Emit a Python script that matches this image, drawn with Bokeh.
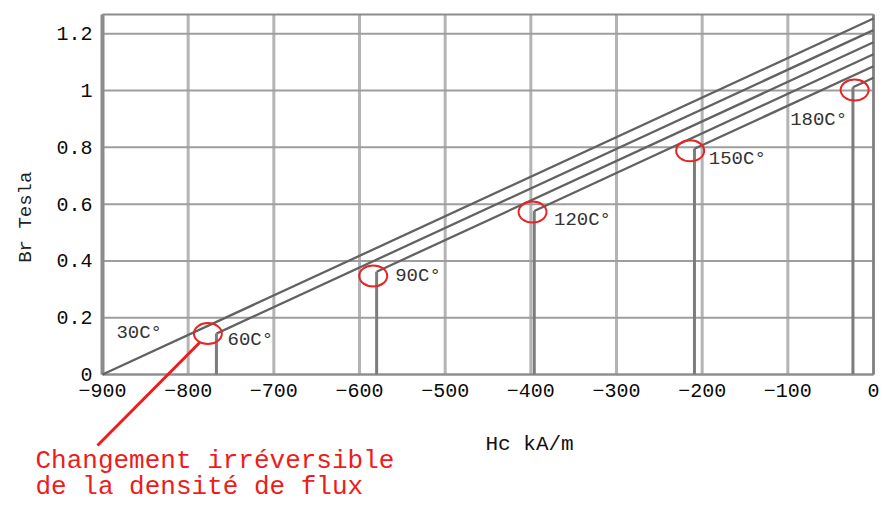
import math
from bokeh.plotting import figure
from bokeh.models import LinearAxis, FixedTicker
from bokeh.core.properties import value
from bokeh.embed import file_html
from bokeh.resources import INLINE

# ---- data ----
temps = ["30C°", "60C°", "90C°", "120C°", "150C°", "180C°"]
knee_h = [-900, -767, -580, -396, -209, -24]          # kA/m, where each curve starts (knee)
knee_b = [0.0, 0.144, 0.362, 0.576, 0.795, 1.012]     # Tesla at knee
br_h0 = [1.254, 1.213, 1.170, 1.128, 1.086, 1.045]    # Tesla at H = 0

circle_h = [-777, -584, -398, -214, -22]
circle_b = [0.144, 0.347, 0.572, 0.788, 1.002]

x_ticks = [-900, -800, -700, -600, -500, -400, -300, -200, -100, 0]
x_tick_labels = ["\u2212900", "\u2212800", "\u2212700", "\u2212600", "\u2212500",
                 "\u2212400", "\u2212300", "\u2212200", "\u2212100", "0"]
y_ticks = [0, 0.2, 0.4, 0.6, 0.8, 1.0, 1.2]
y_tick_labels = ["0", "0.2", "0.4", "0.6", "0.8", "1", "1.2"]

x_title = "Hc kA/m"
y_title = "Br  Tesla"
note_lines = ["Changement irréversible", "de la densité de flux"]

# ---- layout geometry (figure pixels) ----
FIG_W, FIG_H = 880, 505
FR_L, FR_R, FR_T, FR_B = 102, 873, 14, 374
XMIN, XMAX, YMIN, YMAX = -900, 0, 0, 1.268
kx = (FR_R - FR_L) / (XMAX - XMIN)
ky = (FR_B - FR_T) / (YMAX - YMIN)
kx_ref = (879 - FR_L) / (XMAX - XMIN)   # horizontal scale of the reference picture


def H(px):          # free position in figure pixels -> data x
    return XMIN + (px - FR_L) / kx


def H_ref(px):      # position tied to the data, read with the reference's scale
    return XMIN + (px - FR_L) / kx_ref


def B(py):
    return YMIN + (FR_B - py) / ky


MONO = "Liberation Mono"
p = figure(width=FIG_W, height=FIG_H,
           x_range=(H(0), H(FIG_W)), y_range=(B(FIG_H), B(0)),
           x_axis_location=None, y_axis_location=None,
           output_backend="svg", toolbar_location=None, min_border=0)
p.outline_line_color = None
p.background_fill_color = "white"
p.border_fill_color = "white"
p.grid.visible = False

# axes placed at the chart's own edges
xaxis = LinearAxis(fixed_location=YMIN, ticker=FixedTicker(ticks=x_ticks),
                   major_label_overrides={t: l for t, l in zip(x_ticks, x_tick_labels)})
yaxis = LinearAxis(fixed_location=XMIN, ticker=FixedTicker(ticks=y_ticks),
                   major_label_overrides={t: l for t, l in zip(y_ticks, y_tick_labels)})
for ax in (xaxis, yaxis):
    ax.axis_line_color = None
    ax.major_tick_line_color = None
    ax.minor_tick_line_color = None
    ax.major_tick_out = 0
    ax.major_tick_in = 0
    ax.major_label_text_font = MONO
    ax.major_label_text_font_size = "20px"
    ax.major_label_text_color = "#0a0a0a"
xaxis.major_label_standoff = 9
yaxis.major_label_standoff = 10
p.add_layout(xaxis, "below")
p.add_layout(yaxis, "left")

# grid
p.segment(x0=x_ticks, y0=[YMIN] * len(x_ticks), x1=x_ticks, y1=[YMAX] * len(x_ticks),
          line_color="#b4b4b4", line_width=3)
p.segment(x0=[XMIN] * len(y_ticks), y0=y_ticks, x1=[XMAX] * len(y_ticks), y1=y_ticks,
          line_color="#9e9e9e", line_width=2)

# frame
p.segment(x0=[XMIN, XMIN], y0=[YMIN, YMAX], x1=[XMAX, XMAX], y1=[YMIN, YMAX],
          line_color="#8c8c8c", line_width=2)
p.segment(x0=[XMAX], y0=[YMIN], x1=[XMAX], y1=[YMAX], line_color="#808080", line_width=2.5)
p.segment(x0=[XMIN], y0=[YMIN], x1=[XMIN], y1=[YMAX], line_color="#8c8c8c", line_width=4)

# demagnetisation lines
xs = [[h, XMAX] for h in knee_h]
ys = [[b0, b1] for b0, b1 in zip(knee_b, br_h0)]
p.multi_line(xs=xs, ys=ys, line_color="#626262", line_width=2.3)

# irreversible drop at each knee
p.segment(x0=knee_h[1:], y0=[YMIN] * 5, x1=knee_h[1:], y1=knee_b[1:],
          line_color="#7c7c7c", line_width=3)

# red circles at the knees
p.ellipse(x=circle_h, y=circle_b, width=28, height=21, width_units="screen",
          height_units="screen", fill_color=None, line_color="#e82424", line_width=2)

# temperature labels
lab_px = [(115, 332), (228, 339.5), (397, 275.5), (557, 219), (713, 158), (795, 119.5)]
p.text(x=[H_ref(lab_px[0][0])], y=[B(lab_px[0][1])], text=[temps[0]],
       text_font=value(MONO), text_font_size="19px", text_color="#333333",
       text_align="left", text_baseline="middle",
       background_fill_color="white", padding=1)
p.text(x=[H_ref(a) for a, _ in lab_px[1:]], y=[B(b) for _, b in lab_px[1:]], text=temps[1:],
       text_font=value(MONO), text_font_size="19px", text_color="#333333",
       text_align="left", text_baseline="middle")

# axis titles
p.text(x=[H(485)], y=[B(444)], text=[x_title], text_font=value(MONO),
       text_font_size="21px", text_color="#111111", text_align="left", text_baseline="middle")
p.text(x=[H(25)], y=[B(211)], text=[y_title], text_font=value(MONO),
       text_font_size="19px", text_color="#222222", text_align="center",
       text_baseline="middle", angle=math.pi / 2)

# red pointer and note
RED = "#ee1c1c"
p.line(x=[H_ref(200), H(97)], y=[B(342), B(445)], line_color=RED, line_width=3)
p.text(x=[H(35), H(35)], y=[B(460), B(486)], text=note_lines, text_font=value(MONO),
       text_font_size="26px", text_color=RED, text_align="left", text_baseline="middle")

open("out.html", "w").write(file_html(p, INLINE))
